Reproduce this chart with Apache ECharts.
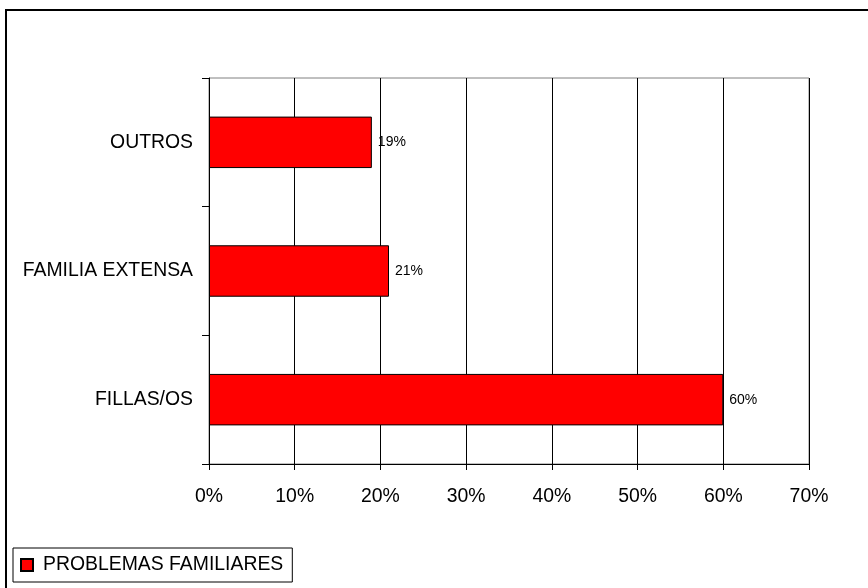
<!DOCTYPE html>
<html>
<head>
<meta charset="utf-8">
<script src="https://cdn.jsdelivr.net/npm/echarts@6/dist/echarts.min.js"></script>
<style>
html,body{margin:0;padding:0;background:#fff;}
#c{width:868px;height:588px;}
</style>
</head>
<body>
<div id="c"></div>
<script>
var categories = ['FILLAS/OS', 'FAMILIA EXTENSA', 'OUTROS'];
var seriesName = 'PROBLEMAS FAMILIARES';
var values = [60, 21, 19];
var xTicks = { min: 0, max: 70, interval: 10 };

var FONT = '"Liberation Sans", Arial, sans-serif';
var chart = echarts.init(document.getElementById('c'), null, { renderer: 'canvas' });
chart.setOption({
  backgroundColor: '#fff',
  animation: false,
  textStyle: { fontFamily: FONT },
  graphic: [{
    type: 'rect',
    shape: { x: 6, y: 10, width: 900, height: 700 },
    style: { fill: null, stroke: '#000', lineWidth: 2 },
    silent: true
  }],
  grid: {
    left: 209, top: 78, right: 59, bottom: 124,
    containLabel: false, outerBoundsMode: 'none',
    show: true, borderColor: '#808080', borderWidth: 1, backgroundColor: 'transparent'
  },
  legend: {
    left: 13, top: 548,
    orient: 'horizontal',
    data: [seriesName],
    icon: 'rect',
    itemWidth: 12, itemHeight: 12,
    borderColor: '#000', borderWidth: 1,
    padding: [6, 9, 6, 7],
    textStyle: { fontSize: 19.4, color: '#000', fontFamily: FONT, padding: [0, 0, 0, 5], lineHeight: 22 }
  },
  xAxis: {
    type: 'value',
    min: xTicks.min, max: xTicks.max, interval: xTicks.interval,
    axisLine: { show: true, lineStyle: { color: '#000', width: 1 } },
    axisTick: { show: true, length: 6, lineStyle: { color: '#000' } },
    axisLabel: { formatter: '{value}%', fontSize: 19.4, color: '#000', margin: 23, fontFamily: FONT },
    splitLine: { show: true, lineStyle: { color: '#000', width: 1 } }
  },
  yAxis: {
    type: 'category',
    data: categories,
    axisLine: { show: true, lineStyle: { color: '#000', width: 1 } },
    axisTick: { show: true, length: 7, alignWithLabel: false, lineStyle: { color: '#000' } },
    axisLabel: { fontSize: 19.4, color: '#000', margin: 16, fontFamily: FONT },
    splitLine: { show: false }
  },
  series: [{
    name: seriesName,
    type: 'bar',
    data: values,
    barCategoryGap: '60%',
    itemStyle: { color: '#ff0000', borderColor: '#000', borderWidth: 1 },
    label: {
      show: true, position: 'right', distance: 6,
      formatter: '{c}%', fontSize: 14, color: '#000', fontFamily: FONT
    }
  }]
});
</script>
</body>
</html>
